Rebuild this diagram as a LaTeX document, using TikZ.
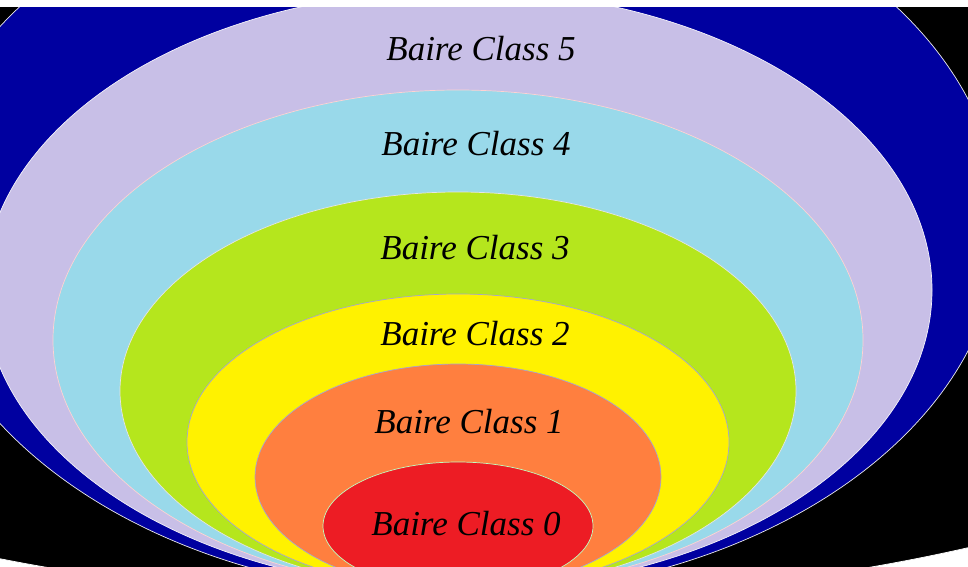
\documentclass[tikz,border=0pt]{standalone}
\usepackage{fontspec}
\setmainfont{Liberation Serif}
\definecolor{dblue}{HTML}{0000A0}
\definecolor{lav}{HTML}{C8BFE7}
\definecolor{ltblue}{HTML}{99D9EA}
\definecolor{lime}{HTML}{B5E61D}
\definecolor{yel}{HTML}{FFF200}
\definecolor{orng}{HTML}{FF7F3F}
\definecolor{rd}{HTML}{ED1C24}
\begin{document}
\begin{tikzpicture}[x=1pt,y=-1pt,
  lbl/.style={font=\fontsize{35}{40}\selectfont\itshape, anchor=base, inner sep=0pt, text=black},
  ring/.style={line width=0.7pt}]
\useasboundingbox (0,0) rectangle (968,566);
\fill[white] (0,0) rectangle (968,566);
\begin{scope}
  \clip (0,7) rectangle (968,566);
  \filldraw[fill=black, draw=white, ring] (458,225) ellipse [x radius=993pt, y radius=376pt];
  \filldraw[fill=dblue, draw=white!85!gray, ring] (458,225) ellipse [x radius=542pt, y radius=371pt];
  \filldraw[fill=lav, draw=white!80!lav, ring] (458,290) ellipse [x radius=474pt, y radius=300pt];
  \filldraw[fill=ltblue, draw=pink!70!white, ring] (458,340) ellipse [x radius=405pt, y radius=250pt];
  \filldraw[fill=lime, draw=white!80!gray, ring] (458,391) ellipse [x radius=338pt, y radius=199pt];
  \filldraw[fill=yel, draw=white!75!blue!60!gray, ring] (458,442) ellipse [x radius=271pt, y radius=148pt];
  \filldraw[fill=orng, draw=white!75!blue!60!gray, ring] (458,477) ellipse [x radius=203pt, y radius=113pt];
  \filldraw[fill=rd, draw=green!25!white, ring] (458,526) ellipse [x radius=135pt, y radius=64pt];
\end{scope}
\node[lbl] (c5) at (481,60) {Baire Class 5};
\node[lbl] (c4) at (476,155) {Baire Class 4};
\node[lbl] (c3) at (475,259) {Baire Class 3};
\node[lbl] (c2) at (475,345) {Baire Class 2};
\node[lbl] (c1) at (469,433) {Baire Class 1};
\node[lbl] (c0) at (466,535) {Baire Class 0};
\end{tikzpicture}
\end{document}
